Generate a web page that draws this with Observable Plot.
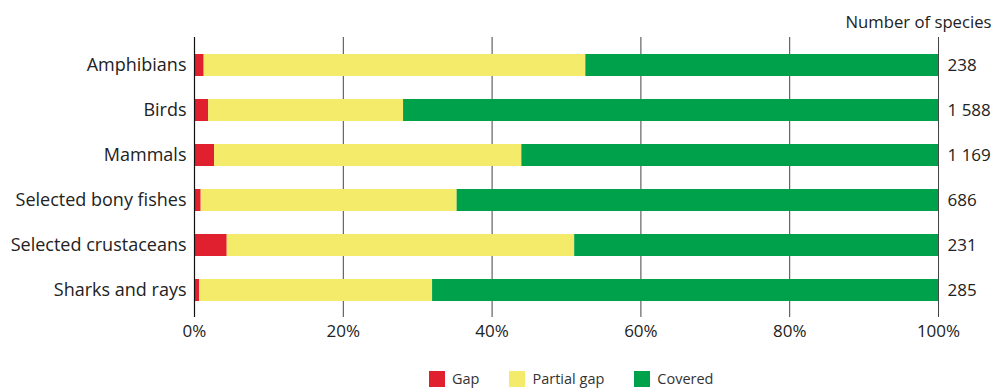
<!DOCTYPE html>
<html>
<head>
<meta charset="utf-8">
<script src="https://cdn.jsdelivr.net/npm/d3@7"></script>
<script src="https://cdn.jsdelivr.net/npm/@observablehq/plot@0.6"></script>
<style>
  html, body { margin: 0; padding: 0; background: #fff; }
  body { width: 999px; height: 390px; position: relative; font-family: "Open Sans", sans-serif; color: #222; }
  #legend { position: absolute; left: 429px; top: 369px; display: flex; align-items: center; font-size: 14.5px; color: #333; }
  #legend .item { display: flex; align-items: center; margin-right: 30px; }
  #legend .sw { width: 16px; height: 16px; margin-right: 7px; }
</style>
</head>
<body>
<div id="chart"></div>
<div id="legend"></div>
<script>
const categories = ["Amphibians", "Birds", "Mammals", "Selected bony fishes", "Selected crustaceans", "Sharks and rays"];
const gap        = [1.3, 1.9, 2.7, 0.9, 4.4, 0.7];
const partialGap = [51.3, 26.2, 41.3, 34.4, 46.7, 31.3];
const covered    = [47.4, 71.9, 56.0, 64.7, 48.9, 68.0];
const speciesCount = ["238", "1 588", "1 169", "686", "231", "285"];
const seriesNames = ["Gap", "Partial gap", "Covered"];
const seriesColors = ["#e0202f", "#f5eb6b", "#00a14b"];
const xTicks = [0, 20, 40, 60, 80, 100];

const rows = [];
categories.forEach((c, i) => {
  rows.push({category: c, series: "Gap", value: gap[i]});
  rows.push({category: c, series: "Partial gap", value: partialGap[i]});
  rows.push({category: c, series: "Covered", value: covered[i]});
});
const counts = categories.map((c, i) => ({category: c, n: speciesCount[i]}));

const chart = Plot.plot({
  width: 999,
  height: 345,
  marginTop: 37,
  marginBottom: 28,
  marginLeft: 194,
  marginRight: 61,
  style: {fontFamily: "Open Sans, sans-serif", fontSize: "17px", color: "#222", background: "#fff"},
  x: {domain: [0, 100], ticks: xTicks, tickFormat: d => d + "%", label: null, tickSize: 0, tickPadding: 7},
  y: {domain: categories, paddingInner: 0.515, paddingOuter: 0.341, label: null, tickSize: 0, tickPadding: 8},
  color: {domain: seriesNames, range: seriesColors},
  marks: [
    Plot.ruleX(xTicks.filter(d => d > 0), {stroke: "#444", strokeWidth: 1}),
    Plot.barX(rows, Plot.stackX({x: "value", y: "category", fill: "series", order: seriesNames})),
    Plot.ruleX([0], {stroke: "#111", strokeWidth: 1.2}),
    Plot.axisY({tickSize: 0, tickPadding: 8, fontSize: 18, label: null}),
    Plot.axisX({ticks: xTicks, tickFormat: d => d + "%", tickSize: 0, tickPadding: 7, fontSize: 17, label: null}),
    Plot.text(counts, {x: 100, y: "category", text: "n", dx: 9, textAnchor: "start", fontSize: 17, fill: "#222"}),
    Plot.text(["Number of species"], {x: 100, frameAnchor: "top", dy: -21, dx: 53, textAnchor: "end", fontSize: 16.7, fill: "#222"})
  ]
});
document.getElementById("chart").appendChild(chart);

const legend = document.getElementById("legend");
seriesNames.forEach((s, i) => {
  const item = document.createElement("div");
  item.className = "item";
  const sw = document.createElement("div");
  sw.className = "sw";
  sw.style.background = seriesColors[i];
  const label = document.createElement("span");
  label.textContent = s;
  item.appendChild(sw);
  item.appendChild(label);
  legend.appendChild(item);
});
</script>
</body>
</html>
